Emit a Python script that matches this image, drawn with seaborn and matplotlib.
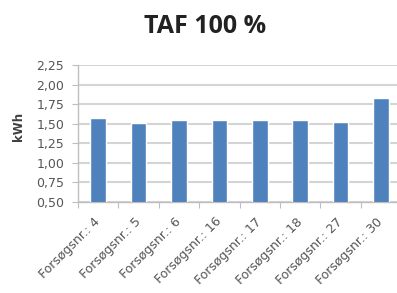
import numpy as np
import pandas as pd
import matplotlib
matplotlib.use('Agg')
import matplotlib.pyplot as plt
import seaborn as sns

# data
categories = ['Forsøgsnr.: 4', 'Forsøgsnr.: 5', 'Forsøgsnr.: 6', 'Forsøgsnr.: 16',
              'Forsøgsnr.: 17', 'Forsøgsnr.: 18', 'Forsøgsnr.: 27', 'Forsøgsnr.: 30']
kwh = [1.575, 1.51, 1.55, 1.54, 1.54, 1.54, 1.524, 1.824]
y_ticks = [0.50, 0.75, 1.00, 1.25, 1.50, 1.75, 2.00, 2.25]

df = pd.DataFrame({'test': categories, 'kwh': kwh})

sns.set_theme(style='white')
plt.rcParams['font.family'] = ['DejaVu Sans']

fig = plt.figure(figsize=(3.97, 2.93), dpi=100)
ax = fig.add_axes([0.1965, 0.3116, 0.8141, 0.4666])

sns.barplot(data=df, x='test', y='kwh', color='#4F81BD', saturation=1,
            width=0.385, ax=ax, zorder=3)

ax.set_ylim(0.5, 2.25)
ax.set_xlim(-0.5, len(categories) - 0.5)
ax.set_yticks(y_ticks)
ax.set_yticklabels([f'{v:.2f}'.replace('.', ',') for v in y_ticks],
                   fontsize=9, color='#555555')
ax.grid(axis='y', color='#d4d4d4', linewidth=1.5, zorder=0)
ax.set_axisbelow(True)

for side in ['top', 'right']:
    ax.spines[side].set_visible(False)
for side in ['left', 'bottom']:
    ax.spines[side].set_color('#bfbfbf')
    ax.spines[side].set_linewidth(1.0)

ax.tick_params(axis='y', which='major', length=4, width=0.8, color='#bfbfbf',
               direction='out', left=True, pad=6)
ax.set_xticks(np.arange(-0.5, len(categories), 1.0), minor=True)
ax.tick_params(axis='x', which='minor', length=4, width=0.8, color='#bfbfbf',
               direction='out', bottom=True)
ax.tick_params(axis='x', which='major', length=0, pad=13)
ax.set_xticks(range(len(categories)))
ax.set_xticklabels(categories, rotation=45, ha='right', va='center',
                   rotation_mode='anchor', fontsize=9, color='#555555')

ax.set_xlabel('')
ax.set_ylabel('kWh', fontsize=8.5, fontweight='bold', color='#404040')
ax.yaxis.set_label_coords(-0.165, 0.55)

fig.text(0.516, 0.911, 'TAF 100 %', ha='center', va='center',
         fontsize=18, fontweight='bold', color='#222222',
         family=['Open Sans', 'DejaVu Sans'])

fig.savefig('out.png', dpi=100)
